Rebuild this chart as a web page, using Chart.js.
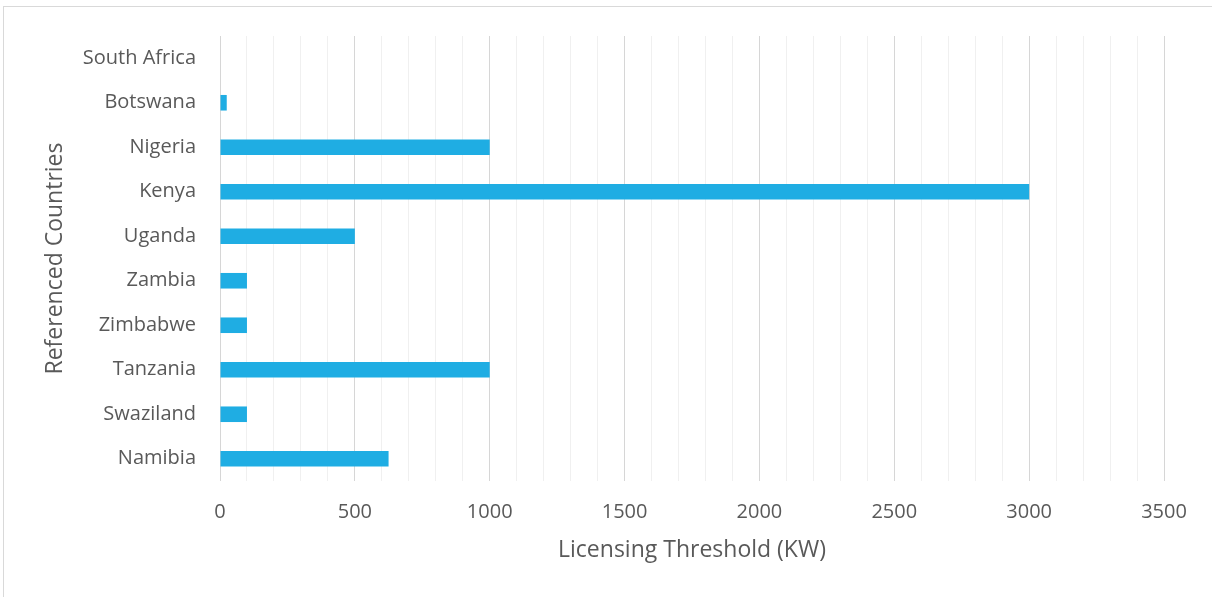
<!DOCTYPE html>
<html>
<head>
<meta charset="utf-8">
<script src="https://cdn.jsdelivr.net/npm/chart.js@4"></script>
<style>
    html, body { margin: 0; padding: 0; background: #fff; overflow: hidden; }
    #wrap { position: relative; width: 1212px; height: 597px; }
    #frame {
        position: absolute; left: 3px; top: 6px; width: 1220px; height: 610px;
        border-left: 1px solid #d9d9d9; border-top: 1px solid #d9d9d9;
        pointer-events: none;
    }
</style>
</head>
<body>
<div id="wrap">
    <canvas id="licenseChart" width="1212" height="597"></canvas>
    <div id="frame"></div>
</div>
<script>
// Datos del gráfico (de arriba hacia abajo)
const countries = ['South Africa', 'Botswana', 'Nigeria', 'Kenya', 'Uganda',
                   'Zambia', 'Zimbabwe', 'Tanzania', 'Swaziland', 'Namibia'];
const thresholdKW = [0, 25, 1000, 3000, 500, 100, 100, 1000, 100, 625];
const xTickStep = 100;
const xLabelStep = 500;
const xMax = 3500;

const textColor = '#595959';
const font = 'Open Sans';

const ctx = document.getElementById('licenseChart').getContext('2d');
const chart = new Chart(ctx, {
    type: 'bar',
    data: {
        labels: countries,
        datasets: [{
            label: 'Licensing Threshold (KW)',
            data: thresholdKW,
            backgroundColor: '#1fade3',
            barPercentage: 0.35,
            categoryPercentage: 1
        }]
    },
    options: {
        indexAxis: 'y',
        responsive: false,
        animation: false,
        layout: {
            padding: { top: 36, right: 48, bottom: 0, left: 0 }
        },
        plugins: {
            legend: { display: false },
            tooltip: { enabled: false }
        },
        scales: {
            x: {
                min: 0,
                max: xMax,
                border: { display: false },
                grid: {
                    drawTicks: false,
                    color: c => (c.tick && c.tick.value % xLabelStep === 0) ? '#d6d6d6' : '#f0f0f0',
                    lineWidth: 1
                },
                ticks: {
                    stepSize: xTickStep,
                    autoSkip: false,
                    maxRotation: 0,
                    padding: 19,
                    color: textColor,
                    font: { family: font, size: 20 },
                    callback: v => (v % xLabelStep === 0 ? v : '')
                },
                title: {
                    display: true,
                    text: 'Licensing Threshold (KW)',
                    color: textColor,
                    font: { family: font, size: 23 },
                    padding: { top: 0, bottom: 33 }
                },
                afterFit: s => { s.height = 116; }
            },
            y: {
                border: { display: false },
                grid: { display: false, drawTicks: false },
                ticks: {
                    padding: 24,
                    color: textColor,
                    font: { family: font, size: 20 }
                },
                title: {
                    display: true,
                    text: 'Referenced Countries',
                    color: textColor,
                    font: { family: font, size: 23 },
                    padding: { top: 42, bottom: 0 }
                },
                afterFit: s => { s.width = 220; }
            }
        }
    }
});
</script>
</body>
</html>
